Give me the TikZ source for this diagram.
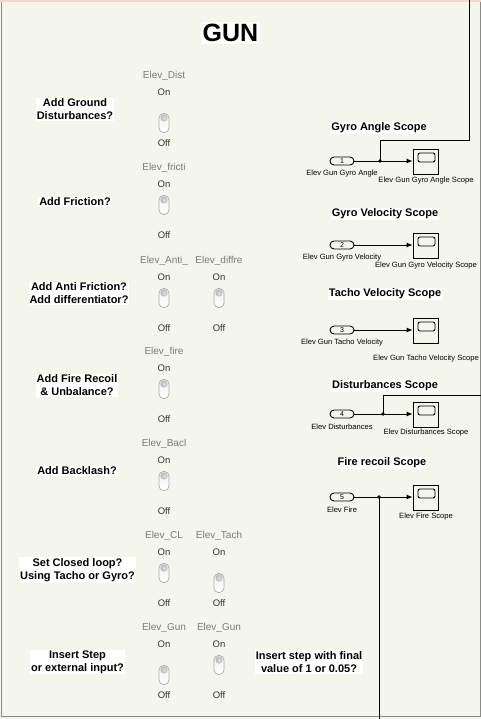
\documentclass[tikz,border=0pt]{standalone}
\usepackage{fontspec}
\setmainfont{Liberation Sans}
\usetikzlibrary{arrows.meta}

\definecolor{panelbg}{HTML}{F5F6EB}
\definecolor{framegray}{HTML}{8A8A8A}
\definecolor{framepink}{HTML}{F2D6CF}
\definecolor{blkname}{HTML}{7A7A7A}
\definecolor{swtext}{HTML}{333333}

\tikzset{
  question/.style={fill=white, inner sep=1pt, align=center,
    font=\bfseries\fontsize{11}{13}\selectfont},
  swname/.style={text=blkname, inner sep=0pt, font=\fontsize{10}{11}\selectfont},
  swstate/.style={text=swtext, inner sep=0pt, font=\fontsize{9.5}{10}\selectfont},
  portlbl/.style={inner sep=0pt, font=\fontsize{7.6}{8}\selectfont},
  inport/.style={draw, line width=0.9pt, rounded corners=4pt, minimum width=24pt,
    minimum height=8pt, inner sep=0pt, font=\fontsize{7}{7}\selectfont},
  scopebox/.style={draw, line width=0.9pt, minimum width=25pt, minimum height=25pt, inner sep=0pt},
  screen/.style={draw, line width=0.9pt, rounded corners=2pt, minimum width=17pt,
    minimum height=9pt, inner sep=0pt},
  sig/.style={line width=0.9pt, -{Latex[length=6pt,width=5pt]}},
  wire/.style={line width=0.9pt},
  jdot/.style={circle, fill, inner sep=1.4pt},
  flipsw/.pic={
    \draw[draw=gray!65, line width=0.7pt, top color=gray!12, bottom color=white,
      rounded corners=4.5pt] (-5,-9.5) rectangle (5,9.5);
    \shade[inner color=gray!25, outer color=gray!55] (0,-5) circle (3.6);
  }
}

\begin{document}
\begin{tikzpicture}[x=1pt, y=-1pt]
  \useasboundingbox (0,0) rectangle (481,719);
  \fill[panelbg] (0,0) rectangle (481,719);
  \draw[framepink, line width=1.5pt] (0,0.8) -- (481,0.8);
  \draw[framegray, line width=1pt] (1,2) -- (1,716.5) -- (480,716.5) -- (480,2);

  \node[fill=white, inner sep=2pt, font=\bfseries\fontsize{25}{25}\selectfont] (gun) at (230.5,33) {GUN};

  % questions on the left
  \node[question] (qdist) at (75,109.5) {Add Ground\\Disturbances?};
  \node[question] (qfric) at (75,202) {Add Friction?};
  \node[question] (qanti) at (79,293.5) {Add Anti Friction?\\Add differentiator?};
  \node[question] (qfire) at (77,385.5) {Add Fire Recoil\\\& Unbalance?};
  \node[question] (qback) at (77,471) {Add Backlash?};
  \node[question] (qloop) at (77.5,570) {Set Closed loop?\\Using Tacho or Gyro?};
  \node[question] (qstep) at (77.5,662) {Insert Step\\or external input?};
  \node[question] (qfinal) at (309,662) {Insert step with final\\value of 1 or 0.05?};

  % switches
  \foreach \nm/\x/\y/\t [count=\k] in {Elev\_Dist/164/76/123, Elev\_fricti/164/168/205,
      Elev\_Anti\_/164/261/298, Elev\_diffre/219/261/298, Elev\_fire/164/352/389,
      Elev\_Bacl/164/444/481, Elev\_CL/164/536/573, Elev\_Tach/219/536/583,
      Elev\_Gun/164/628/675, Elev\_Gun/219/628/665}
  {
    \node[swname] (nm\k) at (\x,\y) {\nm};
    \node[swstate] (on\k) at (\x,\y+16) {On};
    \pic (tg\k) at (\x,\t) {flipsw};
    \node[swstate] (off\k) at (\x,\y+67) {Off};
  }

  % scopes on the right
  \foreach \n/\y/\tx/\ty/\title/\pl/\sl/\sy in {
      1/161/379/128/Gyro Angle Scope/Elev Gun Gyro Angle/Elev Gun Gyro Angle Scope/181,
      2/245/385/214/Gyro Velocity Scope/Elev Gun Gyro Velocity/Elev Gun Gyro Velocity Scope/266,
      3/330/385/294/Tacho Velocity Scope/Elev Gun Tacho Velocity/Elev Gun Tacho Velocity Scope/359,
      4/414/385/386/Disturbances Scope/Elev Disturbances/Elev Disturbances Scope/433,
      5/497/382/463/Fire recoil Scope/Elev Fire/Elev Fire Scope/517}
  {
    \node[question] (ttl\n) at (\tx,\ty) {\title};
    \node[inport] (in\n) at (342,\y) {\n};
    \node[portlbl] (inl\n) at (342,\y+12.5) {\pl};
    \node[scopebox] (sc\n) at (425.5,\y+0.5) {};
    \node[screen] (scr\n) at ([xshift=1pt,yshift=4pt]sc\n.center) {};
    \node[portlbl] (scl\n) at (426,\sy) {\sl};
    \draw[sig] (in\n.east) -- (in\n.east -| sc\n.west);
  }

  % branch points
  \node[jdot] (j1) at (380,161) {};
  \node[jdot] (j4) at (383,414) {};
  \node[jdot] (j5) at (379,497) {};
  \coordinate (topout) at (469,0);
  \coordinate (rightout) at (481,395);
  \coordinate (botout) at (379,719);
  \draw[wire] (j1.center) -- ++(0,-21) -| (topout);
  \draw[wire] (j4.center) |- (rightout);
  \draw[wire] (j5.center) -- (botout);
\end{tikzpicture}
\end{document}
